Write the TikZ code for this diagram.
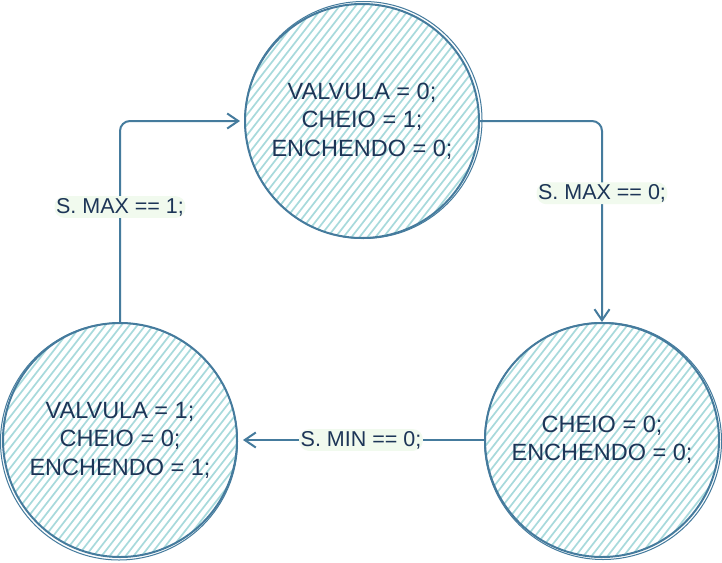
\documentclass[tikz,border=0pt]{standalone}
\usepackage{fontspec}
\setmainfont{Liberation Sans}
\usetikzlibrary{arrows.meta,calc}
\definecolor{strokeC}{HTML}{457B9D}
\definecolor{hatchC}{HTML}{A8DADC}
\definecolor{textC}{HTML}{1D3557}
\definecolor{labelC}{HTML}{F1FAEE}
\tikzset{
  statenode/.style={circle, draw=strokeC, line width=2pt, minimum size=234pt, inner sep=0pt,
    align=center, text=textC, font=\fontsize{23.5}{28.5}\selectfont,
    path picture={
      \foreach \i in {-320,-312,...,320} {
        \draw[hatchC, line width=1.7pt]
          ([shift={(\i-120,154)}]path picture bounding box.center) -- ++(240,-308);
      }
    }},
  sketchring/.style={draw=strokeC, line width=1pt},
  edgeline/.style={draw=strokeC, line width=2pt, rounded corners=10pt,
    -{Straight Barb[length=11pt,width=15pt,line width=2pt]}},
  edgelabel/.style={fill=labelC, text=textC, inner xsep=1.5pt, inner ysep=2pt,
    font=\fontsize{21.5}{24}\selectfont}
}
\begin{document}
\begin{tikzpicture}[x=1pt,y=-1pt]
\useasboundingbox (0,0) rectangle (722,562);
\fill[white] (0,0) rectangle (722,562);

\node[statenode] (T) at (362,121) {VALVULA = 0;\\CHEIO = 1;\\ENCHENDO = 0;};
\node[statenode] (BL) at (120,440) {VALVULA = 1;\\CHEIO = 0;\\ENCHENDO = 1;};
\node[statenode] (BR) at (602,440) {CHEIO = 0;\\ENCHENDO = 0;};

\draw[sketchring] ([shift={(1.5,-1)}]T.center) circle (118.5);
\draw[sketchring] ([shift={(-1,1.5)}]BL.center) circle (118.5);
\draw[sketchring] ([shift={(1,1)}]BR.center) circle (118.5);

\draw[edgeline] (T.east) -| (BR.north)
  node[edgelabel, pos=0.68] {S. MAX == 0;};
\draw[edgeline, shorten >=4pt] (BL.north) |- (T.west)
  node[edgelabel, pos=0.286] {S. MAX == 1;};
\draw[edgeline, shorten >=5pt] (BR.west) -- (BL.east)
  node[edgelabel, midway] {S. MIN == 0;};
\end{tikzpicture}
\end{document}
